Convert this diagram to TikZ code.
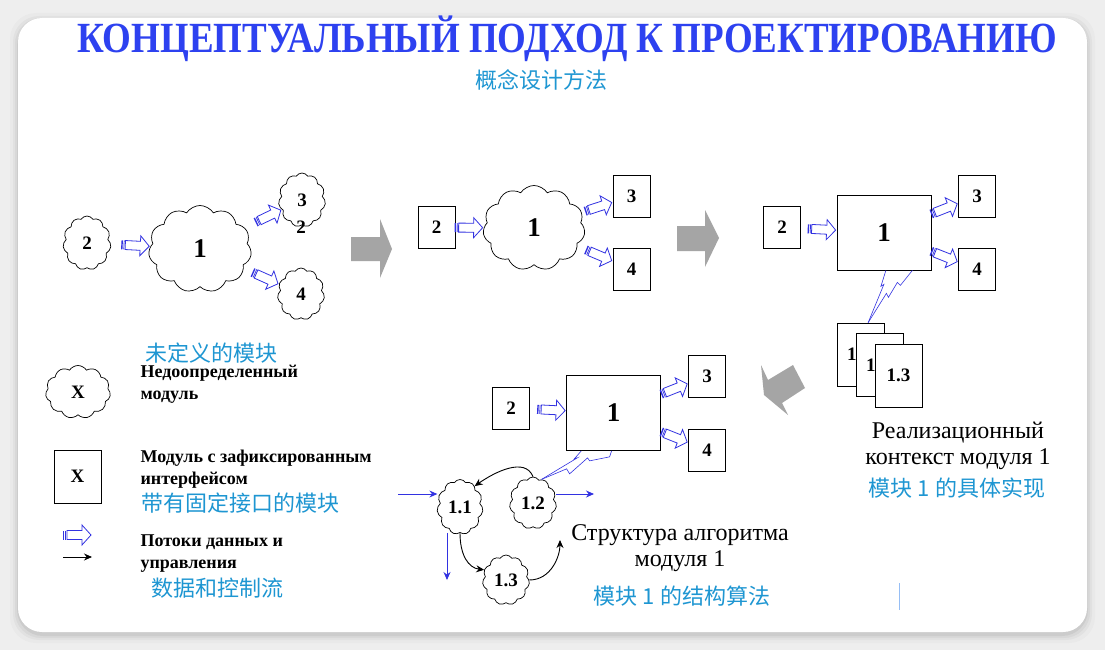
\documentclass[tikz,border=0pt]{standalone}
\usepackage{graphicx}
\usepackage{fontspec}
\setmainfont{Liberation Serif}
\newfontfamily\cjk{Noto Sans CJK SC}
\usepackage{tikz}
\usetikzlibrary{arrows.meta, calc, shapes.symbols, decorations.markings}
\definecolor{titleblue}{RGB}{45,65,240}
\definecolor{cnblue}{RGB}{30,150,210}
\definecolor{flowblue}{RGB}{50,50,225}
\definecolor{shapegray}{RGB}{165,165,165}
\definecolor{pagebg}{RGB}{238,238,238}
\definecolor{cursorblue}{RGB}{150,190,245}
\newcommand\lblfont{\bfseries\fontsize{19}{19}\selectfont}
\newcommand\corefont{\bfseries\fontsize{27}{27}\selectfont}
\newcommand\legfont{\bfseries\fontsize{18}{22}\selectfont}
\newcommand\ctxfont{\fontsize{24}{26}\selectfont}
\newcommand\cnfont{\cjk\fontsize{22}{26}\selectfont}
\newcommand\flowglyph{%
  \fill[flowblue] (-28,-4.5) rectangle (-26.6,4.5);
  \draw[flowblue, line width=0.7pt] (-25.3,-4.5) -- (-25.3,4.5);
  \draw[flowblue, line width=0.8pt, fill=white, line join=miter]
    (-24,-4.5) -- (-9,-4.5) -- (-9,-10) -- (0,0) -- (-9,10) -- (-9,4.5) -- (-24,4.5) -- cycle;}
\tikzset{
  undef/.style={cloud, cloud puffs=11, cloud puff arc=115, cloud ignores aspect,
                draw, line width=0.7pt, fill=white, inner sep=0pt, font=\lblfont},
  fixed/.style={rectangle, draw, line width=0.7pt, fill=white, inner sep=0pt,
                minimum width=37pt, minimum height=42pt, font=\lblfont},
  core/.style={rectangle, draw, line width=0.7pt, fill=white, inner sep=0pt,
               minimum width=94pt, minimum height=75pt, font=\corefont},
  page/.style={rectangle, draw, line width=0.7pt, fill=white, inner sep=0pt,
               minimum width=47pt, minimum height=63pt, font=\lblfont},
  flow/.style={postaction={decorate},
               decoration={markings, mark=at position -1pt with {\flowglyph}}},
  ctl/.style={-{Stealth[length=8pt, width=7pt]}, line width=0.9pt, flowblue},
  ctlk/.style={-{Stealth[length=8pt, width=7pt]}, line width=0.9pt, black},
  bolt/.style={line width=0.6pt, flowblue, line join=miter},
  bigarrow/.style={fill=shapegray, draw=none},
  legtext/.style={anchor=west, align=left, font=\legfont},
  cntext/.style={font=\cnfont, text=cnblue},
}

\begin{document}
\begin{tikzpicture}[x=1pt, y=-1pt]
  \useasboundingbox (0,0) rectangle (1105,650);
  % card with soft shadow
  \fill[pagebg] (0,0) rectangle (1105,650);
  \foreach \s/\o in {8/0.02, 5/0.03, 3/0.04, 1/0.05}
    \fill[black, opacity=\o, rounded corners=26pt] ({18-\s},{18-\s+3}) rectangle ({1087+\s},{632+\s+3});
  \fill[white, rounded corners=24pt] (18,18) rectangle (1087,632);

  \node[font=\bfseries\fontsize{43}{43}\selectfont, text=titleblue] (title) at (567,39)
    {\scalebox{0.86}[1]{КОНЦЕПТУАЛЬНЫЙ ПОДХОД К ПРОЕКТИРОВАНИЮ}};
  \node[cntext] (subtitle) at (541,80) {概念设计方法};

  % stage 1: undefined modules
  \node[undef, minimum width=48pt, minimum height=54pt] (a2) at (87,243) {2};
  \node[undef, minimum width=103pt, minimum height=87pt, font=\corefont] (a1) at (200,249) {1};
  \node[undef, minimum width=47pt, minimum height=54pt] (a3) at (302,200) {3};
  \node[undef, minimum width=47pt, minimum height=52pt] (a4) at (301,294) {4};
  \node[font=\lblfont] (a3b) at (301,227) {2};
  \path[flow] (a2) -- (a1);
  \path[flow] (a1) -- (a3);
  \path[flow] (a1) -- (a4);

  \fill[bigarrow] (351,237) -- (380,237) -- (380,219) -- (392,249) -- (380,278) -- (380,261) -- (351,261) -- cycle;

  % stage 2: fixed interfaces
  \node[fixed] (b2) at (436.5,227.5) {2};
  \node[undef, minimum width=102pt, minimum height=85pt, font=\corefont] (b1) at (534,228) {1};
  \node[fixed] (b3) at (631.5,196) {3};
  \node[fixed] (b4) at (631.5,269) {4};
  \path[flow] (b2) -- (b1);
  \path[flow] (b1) -- (b3);
  \path[flow] (b1) -- (b4);

  \fill[bigarrow] (677,226) -- (705,226) -- (705,210) -- (719,238) -- (705,267) -- (705,251) -- (677,251) -- cycle;

  % stage 3: realization context
  \node[fixed] (c2) at (782,227.5) {2};
  \node[core] (c1) at (884,232.5) {1};
  \node[fixed] (c3) at (977,196) {3};
  \node[fixed] (c4) at (977,269.5) {4};
  \path[flow] (c2) -- (c1);
  \path[flow] (c1) -- (c3);
  \path[flow] (c1) -- (c4);
  \node[page, text width=27pt, align=left, inner xsep=10pt] (pg1) at (860.5,354.5) {1.1};
  \node[page, text width=27pt, align=left, inner xsep=10pt] (pg2) at (879.5,365) {1.2};
  \node[page] (pg3) at (898.5,375.5) {1.3};
  \coordinate (pgtop) at ($(pg1.north west)!0.66!(pg1.north east)$);
  \draw[bolt] ($(c1.south west)!0.52!(c1.south east)$) -- ++(-5,16) -- ++(3,-2) -- (pgtop);
  \draw[bolt] ($(c1.south west)!0.8!(c1.south east)$) -- ++(-12,15) -- ++(-3,-3)
              -- ++(-9,15) -- ++(-2,-4) -- (pgtop);
  \node[font=\ctxfont, align=center] (ctx) at (958,446) {Реализационный\\контекст модуля 1};
  \node[cntext] (ctxcn) at (957,488) {模块 1 的具体实现};

  \fill[bigarrow] (761,365) -- (768,380) -- (793,365) -- (805,388) -- (782,403) -- (788,415) -- (764,395) -- cycle;

  % stage 4: algorithm structure
  \node[fixed] (d2) at (511,408) {2};
  \node[core] (d1) at (613.5,413) {1};
  \node[fixed] (d3) at (707,376) {3};
  \node[fixed] (d4) at (707,450) {4};
  \path[flow] (d2) -- (d1);
  \path[flow] (d1) -- (d3);
  \path[flow] (d1) -- (d4);
  \node[undef, minimum width=46pt, minimum height=55pt] (d11) at (460,507) {1.1};
  \node[undef, minimum width=47pt, minimum height=52pt] (d12) at (533,503) {1.2};
  \node[undef, minimum width=47pt, minimum height=50pt] (d13) at (506,580) {1.3};
  \draw[bolt] ($(d1.south west)!0.16!(d1.south east)$) -- ++(-7,8) -- ++(3,-1) -- (d12.70);
  \draw[bolt] ($(d1.south west)!0.48!(d1.south east)$) -- ++(-2,6) -- ++(-20,4) -- ++(-2,-3)
              -- ++(-18,16) -- ++(-3,-5) -- (d12.70);
  \coordinate (in11) at (398,494);
  \coordinate (out12) at (594,494);
  \coordinate (dn11) at (447,580);
  \coordinate (alg) at (560,540);
  \draw[ctl] (in11) -- (in11 -| d11.west);
  \draw[ctl] (out12 -| d12.east) -- (out12);
  \draw[ctl] (dn11 |- d11.south) -- (dn11);
  \draw[ctlk] (d12.north) .. controls +(-8,-20) and +(20,-14) .. (d11.55);
  \draw[ctlk] (d11.south) .. controls +(0,22) and +(-16,-2) .. (d13.155);
  \draw[ctlk] (d13.east) .. controls +(22,0) and +(0,16) .. (alg);
  \node[font=\ctxfont, align=center] (algtext) at (680,548) {Структура алгоритма\\модуля 1};
  \node[cntext] (algcn) at (682,596) {模块 1 的结构算法};
  \draw[cursorblue, line width=1pt] (899,583) -- (899,610);

  % legend
  \node[cntext, anchor=west] (lg1cn) at (142,353) {未定义的模块};
  \node[undef, minimum width=65pt, minimum height=53pt] (lx1) at (78,392) {X};
  \node[legtext] (lg1) at (137,384) {Недоопределенный\\модуль};
  \node[fixed, minimum width=47pt, minimum height=53pt] (lx2) at (77.5,476.5) {X};
  \node[legtext] (lg2) at (137,469) {Модуль с зафиксированным\\интерфейсом};
  \node[cntext, anchor=west] (lg2cn) at (138,503) {带有固定接口的模块};
  \coordinate (lf0) at (63,535);
  \coordinate (lf1) at (92,535);
  \coordinate (lc0) at (63,557);
  \coordinate (lc1) at (92,557);
  \path[flow] (lf0) -- (lf1);
  \draw[ctlk] (lc0) -- (lc1);
  \node[legtext] (lg3) at (137,554) {Потоки данных и\\управления};
  \node[cntext, anchor=west] (lg3cn) at (148,588) {数据和控制流};
\end{tikzpicture}
\end{document}
